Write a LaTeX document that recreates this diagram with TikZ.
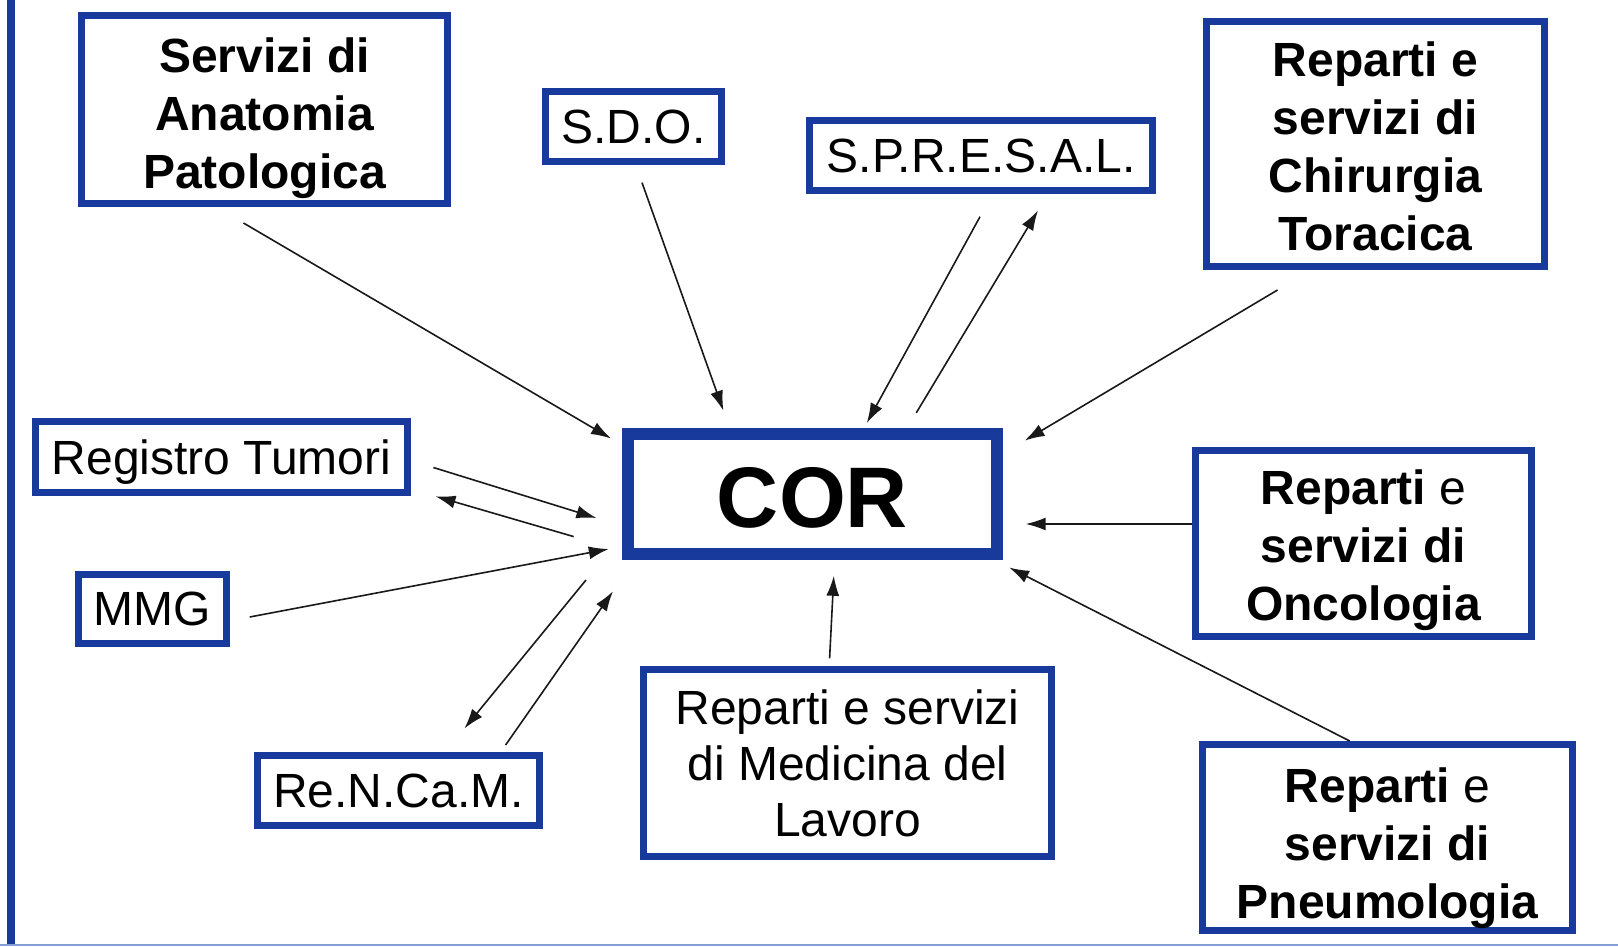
\documentclass[tikz,border=0pt]{standalone}
\usepackage{fontspec}
\setmainfont{Liberation Sans}
\usetikzlibrary{arrows.meta}
\definecolor{boxblue}{RGB}{24,58,156}
\definecolor{lineblue}{RGB}{130,160,215}
\begin{document}
\begin{tikzpicture}[x=1pt,y=-1pt,
  box/.style={draw=boxblue, line width=7pt, inner sep=0pt, fill=white},
  rtxt/.style={inner sep=0pt, align=center, font=\fontsize{48}{56}\selectfont},
  btxt/.style={inner sep=0pt, align=center, font=\fontsize{48}{58}\selectfont\bfseries},
  arr/.style={line width=1.6pt, draw=black!90, -{Latex[length=20pt,width=13pt]}},
]
\useasboundingbox (0,0) rectangle (1618,946);
\fill[white] (0,0) rectangle (1618,946);
% frame
\draw[boxblue, line width=8pt] (11,0) -- (11,946);
\draw[lineblue, line width=2pt] (0,944.5) -- (1618,944.5);

% boxes
\node[box, minimum width=366pt, minimum height=188pt] (anat) at (264.5,109.5) {};
\node[box, minimum width=176pt, minimum height=70pt] (sdo) at (633.5,126.5) {};
\node[box, minimum width=343pt, minimum height=70pt] (spresal) at (981,155.5) {};
\node[box, minimum width=338pt, minimum height=245pt] (chir) at (1375.5,144) {};
\node[box, minimum width=372pt, minimum height=71pt] (reg) at (221.5,457) {};
\node[box, minimum width=148pt, minimum height=69pt] (mmg) at (152.5,609) {};
\node[box, line width=12pt, minimum width=369pt, minimum height=120pt] (cor) at (812.5,494) {};
\node[box, minimum width=336pt, minimum height=186pt] (onc) at (1363.5,543.5) {};
\node[box, minimum width=282pt, minimum height=70pt] (renc) at (398.5,790.5) {};
\node[box, minimum width=408pt, minimum height=187pt] (med) at (847.5,763) {};
\node[box, minimum width=370pt, minimum height=186pt] (pneu) at (1387.5,837.5) {};

% texts
\node[btxt, yshift=-9pt] (anat-t) at (anat) {Servizi di\\Anatomia\\Patologica};
\node[rtxt] (sdo-t) at (sdo) {S.D.O.};
\node[rtxt] (spresal-t) at (spresal) {S.P.R.E.S.A.L.};
\node[btxt, yshift=-2pt] (chir-t) at (chir) {Reparti e\\servizi di\\Chirurgia\\Toracica};
\node[rtxt, yshift=-5pt] (reg-t) at (reg) {Registro Tumori};
\node[rtxt] (mmg-t) at (mmg) {MMG};
\node[inner sep=0pt, font=\fontsize{86}{100}\selectfont\bfseries, yshift=-4pt] (cor-t) at (cor) {COR};
\node[btxt, yshift=-7pt] (onc-t) at (onc) {Reparti {\mdseries e}\\servizi di\\Oncologia};
\node[rtxt] (renc-t) at (renc) {Re.N.Ca.M.};
\node[rtxt] (med-t) at (med) {Reparti e servizi\\di Medicina del\\Lavoro};
\node[btxt, yshift=-11pt] (pneu-t) at (pneu) {Reparti {\mdseries e}\\servizi di\\Pneumologia};

% connector end points
\coordinate (anat-o) at (243.5,223);   \coordinate (cor-anat) at (611,438.5);
\coordinate (sdo-o) at (642,182.6);    \coordinate (cor-sdo) at (723.4,410.7);
\coordinate (spr-o) at (980,216.7);    \coordinate (cor-spr-i) at (866.8,423);
\coordinate (cor-spr-o) at (916.3,412.8); \coordinate (spr-i) at (1038,210.5);
\coordinate (chir-o) at (1277.5,290);  \coordinate (cor-chir) at (1024.7,440.6);
\coordinate (reg-o) at (433.4,467.5);  \coordinate (cor-reg-i) at (596.4,518);
\coordinate (cor-reg-o) at (573.7,536.6); \coordinate (reg-i) at (435.5,496.3);
\coordinate (mmg-o) at (249.7,617);    \coordinate (cor-mmg) at (608.8,549);
\coordinate (cor-ren-o) at (586,580);  \coordinate (ren-i) at (464.4,728.5);
\coordinate (ren-o) at (505.6,745);    \coordinate (cor-ren-i) at (613,591.3);
\coordinate (med-o) at (829.6,658.4);  \coordinate (cor-med) at (833.8,575.8);
\coordinate (cor-onc) at (1025.7,524);
\coordinate (pneu-o) at (1349.7,741);  \coordinate (cor-pneu) at (1009.2,567.5);

% connectors
\draw[arr] (anat-o) -- (cor-anat);
\draw[arr] (sdo-o) -- (cor-sdo);
\draw[arr] (spr-o) -- (cor-spr-i);
\draw[arr] (cor-spr-o) -- (spr-i);
\draw[arr] (chir-o) -- (cor-chir);
\draw[arr] (reg-o) -- (cor-reg-i);
\draw[arr] (cor-reg-o) -- (reg-i);
\draw[arr] (mmg-o) -- (cor-mmg);
\draw[arr] (cor-ren-o) -- (ren-i);
\draw[arr] (ren-o) -- (cor-ren-i);
\draw[arr] (med-o) -- (cor-med);
\draw[arr] (onc.west |- cor-onc) -- (cor-onc);
\draw[arr] (pneu-o) -- (cor-pneu);
\end{tikzpicture}
\end{document}
